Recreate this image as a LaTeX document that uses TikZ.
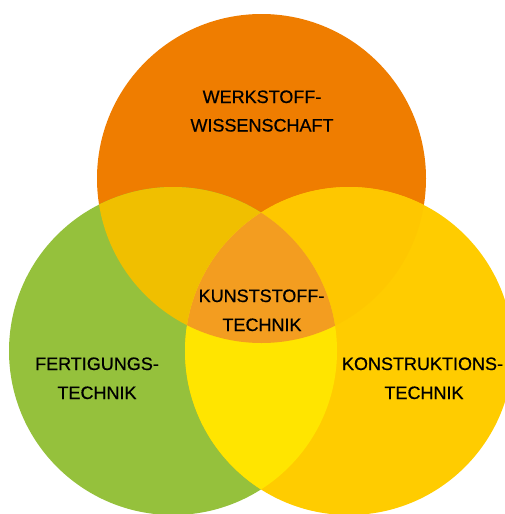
\documentclass[tikz,border=0pt]{standalone}
\usepackage{fontspec}
\setmainfont{Liberation Sans}
\newfontfamily\lblfont[FakeBold=0.6]{Liberation Sans}
\definecolor{cOr}{HTML}{EF7D00}
\definecolor{cGr}{HTML}{95C13C}
\definecolor{cYe}{HTML}{FFCC00}
\definecolor{cOG}{HTML}{F0BF00}
\definecolor{cOY}{HTML}{FEC700}
\definecolor{cGY}{HTML}{FFE500}
\definecolor{cAll}{HTML}{F39D20}
\begin{document}
\begin{tikzpicture}[x=1pt,y=-1pt,
  lbl/.style={anchor=base,inner sep=0pt,font=\lblfont\fontsize{18}{20}\selectfont,text=black}]
\useasboundingbox (0,0) rectangle (505,514);
\def\circO{(261.5,178.5) circle[radius=164.5]}
\def\circG{(173,351) circle[radius=164]}
\def\circY{(349,351) circle[radius=164]}
\fill[cOr] \circO;
\fill[cGr] \circG;
\fill[cYe] \circY;
\begin{scope}
  \clip \circO;
  \fill[cOG] \circG;
  \fill[cOY] \circY;
\end{scope}
\begin{scope}
  \clip \circG;
  \fill[cGY] \circY;
  \clip \circY;
  \fill[cAll] \circO;
\end{scope}
\node[lbl] (w1) at (262,103) {WERKSTOFF-};
\node[lbl] (w2) at (262,131.5) {WISSENSCHAFT};
\node[lbl] (k1) at (261.5,302) {KUNSTSTOFF-};
\node[lbl] (k2) at (262,331) {TECHNIK};
\node[lbl] (f1) at (97,370) {FERTIGUNGS-};
\node[lbl] (f2) at (97,399) {TECHNIK};
\node[lbl] (r1) at (422.5,370) {KONSTRUKTIONS-};
\node[lbl] (r2) at (424,399) {TECHNIK};
\end{tikzpicture}
\end{document}
